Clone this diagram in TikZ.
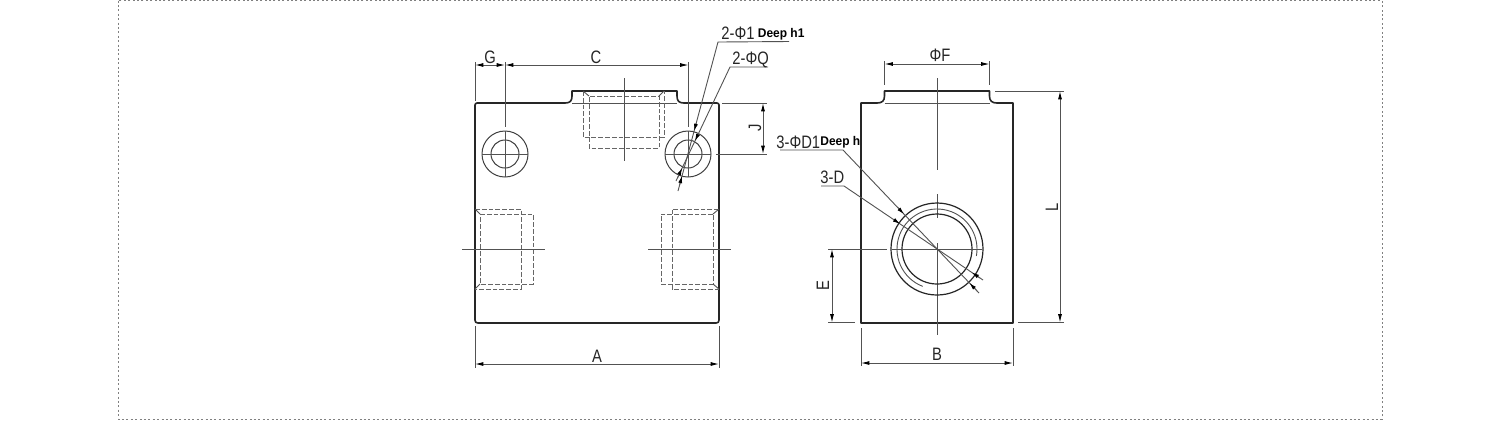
\documentclass[tikz,border=0pt]{standalone}
\usepackage{fontspec}
\setmainfont{Liberation Sans}
\newfontfamily\lab[FakeStretch=0.82]{Liberation Sans}
\newfontfamily\bld[FakeStretch=0.95]{Liberation Sans Bold}
\usetikzlibrary{arrows.meta,calc}
\tikzset{
  body/.style={draw=black!85,line width=0.8pt,line join=round},
  bore/.style={draw=black!85,line width=0.6pt},
  thin gray/.style={draw=black!68,line width=0.45pt},
  hidden/.style={draw=black!60,line width=0.5pt,dash pattern=on 2.4pt off 1pt},
  dim/.style={thin gray,{Latex[length=4.2pt,width=2pt,black]}-{Latex[length=4.2pt,width=2pt,black]}},
  tipline/.style={draw=black!65,line width=0.42pt,-{Latex[length=3.6pt,width=2pt,black]}},
  label/.style={inner sep=0pt,font=\lab\fontsize{9}{9}\selectfont,text=black!85},
  deep/.style={inner sep=0pt,anchor=west,font=\bld\fontsize{6.3}{6.3}\selectfont,text=black},
}
\begin{document}
\begin{tikzpicture}[x=0.5pt,y=-0.5pt]
\useasboundingbox (0,0) rectangle (1500,420);
\fill[white] (0,0) rectangle (1500,420);
\draw[draw=black!50,line width=0.45pt,dash pattern=on 1pt off 1.2pt] (118,0.5) rectangle (1382,419);

% ---------- left view: body
\draw[body] (475,105) -- (475,320) .. controls (475,322) and (476,323) .. (478,323) -- (716,323) .. controls (718,323) and (719,322) .. (719,320) -- (719,105) .. controls (719,104) and (718,103) .. (717,103) -- (684,103) .. controls (679,103) and (677,101) .. (677,96) -- (677,91) -- (572,91) -- (572,96) .. controls (572,101) and (570,103) .. (565,103) -- (477,103) .. controls (476,103) and (475,104) .. (475,105) -- cycle;
\draw[thin gray] (572,103) -- (677,103);
% top port hidden lines
\draw[hidden] (583,91) -- (583,137) -- (664,137) -- (664,91);
\draw[hidden] (589,137) -- (589,148) -- (659,148) -- (659,96) -- (589,96) -- (589,137);
\draw[thin gray] (583,91) -- (589,96) (664,91) -- (659,96);
\draw[thin gray] (624,78) -- (624,161);
% side ports hidden lines
\draw[hidden] (475,209) -- (521,209) -- (521,289) -- (475,289);
\draw[hidden] (480,214) -- (533,214) -- (533,284) -- (480,284) -- cycle;
\draw[thin gray] (475,209) -- (480,214) (475,289) -- (480,284);
\draw[thin gray] (462,249) -- (545,249);
\draw[hidden] (719,209) -- (672,209) -- (672,289) -- (719,289);
\draw[hidden] (713,214) -- (661,214) -- (661,284) -- (713,284) -- cycle;
\draw[thin gray] (719,209) -- (713,214) (719,289) -- (713,284);
\draw[thin gray] (648,249) -- (731,249);
% mounting holes
\coordinate (hl) at (505,154);
\coordinate (hr) at (688,154);
\foreach \c in {hl,hr}{
  \draw[draw=black!75,line width=0.5pt] (\c) circle[radius=23] (\c) circle[radius=14];
  \draw[thin gray] ($(\c)+(-23,0)$) -- ($(\c)+(23,0)$) ($(\c)+(0,-23)$) -- ($(\c)+(0,23)$);
}
% dimensions left
\draw[thin gray] (475,62) -- (475,101) (505,62) -- (505,127) (688.5,62) -- (688.5,127);
\draw[dim] (475,65) -- (505,65);
\draw[dim] (505,65) -- (688.5,65);
\node[label] (labG) at (490,57) {G};
\node[label] (labC) at (596,57) {C};
\draw[thin gray] (722,103) -- (767,103) (716,154) -- (767,154);
\draw[dim] (763,103) -- (763,154);
\node[label,rotate=90] (labJ) at (755,128) {J};
\draw[thin gray] (475,326) -- (475,368) (719,326) -- (719,368);
\draw[dim] (475,364) -- (719,364);
\node[label] (labA) at (597,356) {A};
% leaders on left view
\coordinate (p1) at (718,42);  \coordinate (p1e) at (678,191);
\coordinate (q1) at (730,67);  \coordinate (q1e) at (676,181);
\draw[thin gray] (789,41.5) -- (p1) -- (p1e);
\draw[thin gray] (768,67) -- (q1) -- (q1e);
\draw[tipline] ($(p1)!.544!(p1e)$) -- ($(p1)!.597!(p1e)$);
\draw[tipline] ($(p1)!.966!(p1e)$) -- ($(p1)!.899!(p1e)$);
\draw[tipline] ($(q1)!.579!(q1e)$) -- ($(q1)!.649!(q1e)$);
\draw[tipline] ($(q1)!.974!(q1e)$) -- ($(q1)!.886!(q1e)$);
\node[label,anchor=west] (labPhi) at (721,33) {2-Φ1};
\node[deep] (labDeepA) at (757.5,34) {Deep h1};
\node[label,anchor=west] (labQ) at (732,60) {2-ΦQ};

% ---------- right view: body
\draw[body] (861,323) -- (861,103) -- (877,103) .. controls (882,103) and (884.5,101) .. (884.5,96) -- (884.5,91) -- (989.5,91) -- (989.5,96) .. controls (989.5,101) and (992,103) .. (997,103) -- (1013,103) -- (1013,323) -- cycle;
\draw[thin gray] (884.5,103) -- (989.5,103);
\draw[thin gray] (937,78) -- (937,170) (937,194) -- (937,218) (937,243) -- (937,335);
\coordinate (cc) at (937,249);
\draw[bore] (cc) circle[radius=46] (cc) circle[radius=35];
\draw[thin gray] ($(cc)+(-249:40)$) arc[start angle=-249,end angle=10,radius=40];
\draw[thin gray] (828,249) -- (887,249) (892,249) -- (982,249);
% dimensions right
\draw[thin gray] (884.5,61) -- (884.5,85) (989.5,61) -- (989.5,85);
\draw[dim] (884.5,64) -- (989.5,64);
\node[label] (labF) at (940,55.5) {ΦF};
\draw[thin gray] (995,91) -- (1064,91) (1018,322.5) -- (1064,322.5);
\draw[dim] (1060,91) -- (1060,322.5);
\node[label,rotate=90] (labL) at (1052,207) {L};
\draw[thin gray] (828,322.5) -- (855,322.5);
\draw[dim] (832,249) -- (832,322.5);
\node[label,rotate=90] (labE) at (823,286) {E};
\draw[thin gray] (861,328) -- (861,366) (1013,328) -- (1013,366);
\draw[dim] (861,363) -- (1013,363);
\node[label] (labB) at (937,354) {B};
% leaders on right view
\coordinate (d1) at (843,150); \coordinate (d1e) at (979,293);
\coordinate (d2) at (844,186); \coordinate (d2e) at (983,280);
\draw[thin gray] (780,150) -- (d1) -- (d1e);
\draw[thin gray] (821,186) -- (d2) -- (d2e);
\draw[tipline] ($(d1)!.399!(d1e)$) -- ($(d1)!.448!(d1e)$);
\draw[tipline] ($(d1)!.986!(d1e)$) -- ($(d1)!.93!(d1e)$);
\draw[tipline] ($(d2)!.353!(d2e)$) -- ($(d2)!.403!(d2e)$);
\draw[tipline] ($(d2)!.978!(d2e)$) -- ($(d2)!.92!(d2e)$);
\node[label,anchor=west] (labD1) at (776,142) {3-ΦD1};
\node[deep] (labDeepB) at (820,142) {Deep h};
\node[label,anchor=west] (labD) at (820,177) {3-D};
\end{tikzpicture}
\end{document}
